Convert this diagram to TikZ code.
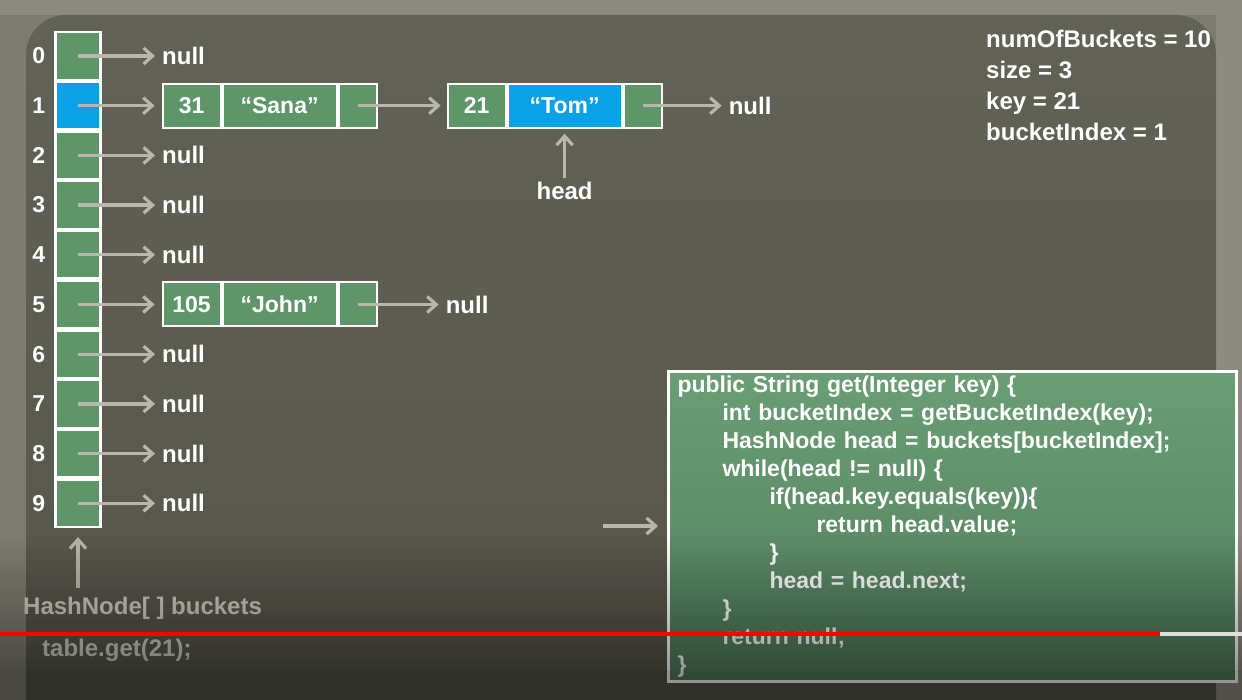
\documentclass[tikz,border=0pt]{standalone}
\usepackage{fontspec}
\setmainfont{Liberation Sans}
\usepackage{tikz}
\usetikzlibrary{arrows.meta,positioning}
\usepackage{xcolor}

\definecolor{framegray}{HTML}{7D7C71}
\definecolor{framelight}{HTML}{8C8B81}
\definecolor{slidetop}{HTML}{636256}
\definecolor{slidebot}{HTML}{54544A}
\definecolor{cellgreen}{HTML}{5E966A}
\definecolor{cellblue}{HTML}{0AA2E6}
\definecolor{ptrgray}{HTML}{B8B7A9}
\definecolor{codetop}{HTML}{6A9E75}
\definecolor{codebot}{HTML}{527F5C}
\definecolor{dimtext}{HTML}{CDCDC4}

\begin{document}
\begin{tikzpicture}[
    x=1pt, y=-1pt,
    cell/.style={draw=white, line width=2pt, fill=cellgreen, inner sep=0pt, text=white, font=\fontsize{23}{28}\selectfont\bfseries},
    bucket/.style={cell, line width=2.2pt, minimum width=45pt, minimum height=47.5pt},
    keycell/.style={cell, minimum width=58pt, minimum height=44pt},
    valcell/.style={cell, minimum width=114pt, minimum height=44pt},
    nextcell/.style={cell, minimum width=38pt, minimum height=44pt},
    txt/.style={inner sep=0pt, text=white, font=\fontsize{24}{31}\selectfont\bfseries},
    idx/.style={txt, font=\fontsize{23}{28}\selectfont\bfseries},
    lbl/.style={txt, text=dimtext},
    codebox/.style={draw=white, line width=3pt, top color=codetop, bottom color=codebot, text width=550pt, inner xsep=9pt, inner ysep=3pt, minimum height=310pt, align=left, text=white, font=\fontsize{23}{28}\selectfont\bfseries},
    ptr/.style={draw=ptrgray, line width=3.2pt, -{Straight Barb[length=9pt, width=16pt]}, shorten >=7pt}
  ]
  \useasboundingbox (0,0) rectangle (1242,700);
  \clip (0,0) rectangle (1242,700);

  % Slide background
  \fill[framegray] (0,0) rectangle (1242,700);
  \fill[framelight] (0,0) rectangle (1242,15);
  \fill[framelight] (1216,0) rectangle (1242,700);
  \shade[top color=slidetop, bottom color=slidebot, rounded corners=40pt] (26,15) rectangle (1216,740);

  % Bucket array
  \node[bucket] (b0) at (78,56) {};
  \node[bucket, fill=cellblue, below=0pt of b0] (b1) {};
  \foreach \i [count=\prev from 1] in {2,...,9}
    \node[bucket, below=0pt of b\prev] (b\i) {};
  \foreach \i in {0,...,9}
    \node[idx, left=9pt of b\i] {\i};

  % Empty buckets
  \foreach \i in {0,2,3,4,6,7,8,9} {
    \node[txt, right=84pt of b\i.center] (n\i) {null};
    \draw[ptr] (b\i.center) -- (n\i);
  }

  % Bucket 1: 31 -> 21 -> null
  \node[keycell, right=60pt of b1] (k1) {31};
  \node[valcell, right=0pt of k1] (v1) {“Sana”};
  \node[nextcell, right=0pt of v1] (x1) {};
  \node[keycell, right=69pt of x1] (k2) {21};
  \node[valcell, fill=cellblue, right=0pt of k2] (v2) {“Tom”};
  \node[nextcell, right=0pt of v2] (x2) {};
  \node[txt, right=86pt of x2.center] (n1) {null};
  \draw[ptr] (b1.center) -- (k1);
  \draw[ptr, shorten >=6pt] (x1.center) -- (k2);
  \draw[ptr] (x2.center) -- (n1);

  % head pointer
  \node[txt, below=53pt of v2] (head) {head};
  \draw[ptr, shorten >=5pt, shorten <=4pt] (head) -- (v2);

  % Bucket 5: 105 -> null
  \node[keycell, right=60pt of b5] (k5) {105};
  \node[valcell, right=0pt of k5] (v5) {“John”};
  \node[nextcell, right=0pt of v5] (x5) {};
  \node[txt, right=88pt of x5.center] (n5) {null};
  \draw[ptr] (b5.center) -- (k5);
  \draw[ptr] (x5.center) -- (n5);

  % State of the table
  \node[txt, anchor=north west, align=left] (info) at (986,30) {numOfBuckets = 10\\size = 3\\key = 21\\bucketIndex = 1};

  % Array label and call
  \node[lbl, anchor=west] (arr) at (23,608) {HashNode[ ] buckets};
  \draw[ptr, shorten <=9pt, shorten >=9pt] (arr.north -| b9) -- (b9);
  \node[lbl, anchor=west] (call) at (42,650) {table.get(21);};

  % Code of get()
  \node[codebox, anchor=north west] (code) at (667,370) {public String get(Integer key) \{\\
    \hspace*{45pt}int bucketIndex = getBucketIndex(key);\\
    \hspace*{45pt}HashNode head = buckets[bucketIndex];\\
    \hspace*{45pt}while(head != null) \{\\
    \hspace*{92pt}if(head.key.equals(key))\{\\
    \hspace*{139pt}return head.value;\\
    \hspace*{92pt}\}\\
    \hspace*{92pt}head = head.next;\\
    \hspace*{45pt}\}\\
    \hspace*{45pt}return null;\\
    \}};
  \coordinate (cur) at (603,526);
  \draw[ptr, shorten >=9pt] (cur) -- (cur -| code.west);

  % Player overlay: darkening towards the bottom
  \foreach \k [evaluate=\k as \op using \k/70] in {1,...,27}
    \fill[black, fill opacity=\op] (0,530+5*\k) rectangle (1242,535.3+5*\k);
  \fill[black, fill opacity=0.42] (0,670.3) rectangle (1242,700);
  \draw[red, line width=3.5pt] (0,634) -- (1160,634);
  \draw[white!75!gray, line width=3.5pt] (1160,634) -- (1242,634);
\end{tikzpicture}
\end{document}
